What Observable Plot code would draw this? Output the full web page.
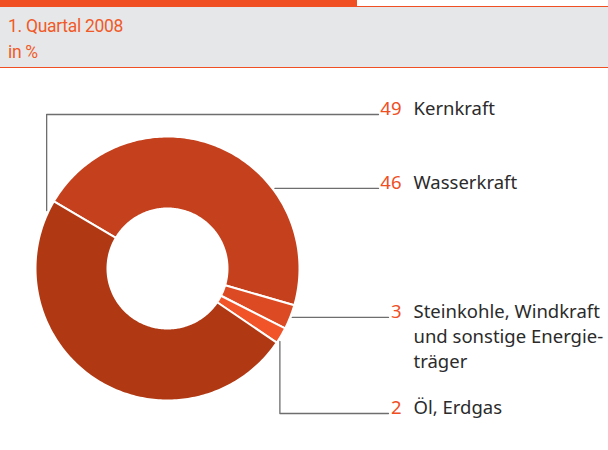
<!DOCTYPE html>
<html><head><meta charset="utf-8">
<script src="https://cdn.jsdelivr.net/npm/d3@7"></script>
<script src="https://cdn.jsdelivr.net/npm/@observablehq/plot@0.6"></script>
<style>
body{margin:0;background:#fff;font-family:"Noto Sans",sans-serif;}
#hdr{position:relative;width:608px;height:67px;}
#bar{position:absolute;left:0;top:0;width:357px;height:7px;background:#f04e23;}
#band{position:absolute;left:0;top:6px;width:608px;height:60px;background:#e6e7e8;border-top:1px solid #f04e23;border-bottom:1px solid #f04e23;}
#band div{position:absolute;left:8px;color:#f05a28;font-family:Roboto,sans-serif;font-size:17.5px;line-height:26px;letter-spacing:-0.3px;}
#chart svg{display:block;}
</style></head>
<body>
<div id="hdr"><div id="bar"></div><div id="band"><div style="top:6px">1. Quartal 2008<br>in %</div></div></div>
<div id="chart"></div>
<script>
// data
const names = ["Wasserkraft", "Steinkohle, Windkraft\nund sonstige Energie-\nträger", "Öl, Erdgas", "Kernkraft"];
const values = [46, 3, 2, 49];
const colors = ["#c5401d", "#db4a22", "#f05428", "#b03813"];
// layout (label placement)
const anchorAngles = [53.3, 111.4, 123, 295.6];
const labelY = [121, 250, 346, 47];
const lineEndX = [378, 388, 388, 378];

const W = 608, H = 383, cx = 167, cy = 201, R = 132, R0 = 60;
const rad = Math.PI / 180;
const pie = d3.pie().sort(null).value(d => d).startAngle(-59.4 * rad).endAngle((360 - 59.4) * rad);
const arcs = pie(values);

const polyPts = [];
arcs.forEach((a, i) => {
  const n = Math.max(4, Math.ceil((a.endAngle - a.startAngle) / (1 * rad)));
  const pts = [];
  for (let k = 0; k <= n; k++) { const t = a.startAngle + (a.endAngle - a.startAngle) * k / n; pts.push([cx + R * Math.sin(t), cy - R * Math.cos(t)]); }
  for (let k = n; k >= 0; k--) { const t = a.startAngle + (a.endAngle - a.startAngle) * k / n; pts.push([cx + R0 * Math.sin(t), cy - R0 * Math.cos(t)]); }
  pts.push(pts[0]);
  pts.forEach(p => polyPts.push({name: names[i], x: p[0], y: p[1]}));
});

const leaderPts = [];
names.forEach((nm, i) => {
  const a = anchorAngles[i] * rad;
  const sx = cx + (R + 2) * Math.sin(a), sy = cy - (R + 2) * Math.cos(a);
  leaderPts.push({name: nm, x: sx, y: sy});
  if (Math.abs(sy - labelY[i]) > 1.5) leaderPts.push({name: nm, x: sx, y: labelY[i]});
  leaderPts.push({name: nm, x: lineEndX[i], y: Math.abs(sy - labelY[i]) > 1.5 ? labelY[i] : sy});
});

const labels = names.map((nm, i) => ({name: nm, value: String(values[i]), y: labelY[i]}));
const fs = 18.5, lh = 25;

const chart = Plot.plot({
  width: W, height: H, margin: 0,
  x: {domain: [0, W], range: [0, W], axis: null},
  y: {domain: [0, H], range: [0, H], axis: null},
  color: {domain: names, range: colors},
  style: {fontFamily: "Noto Sans, sans-serif", background: "white"},
  marks: [
    Plot.line(polyPts, {x: "x", y: "y", z: "name", fill: "name", stroke: "white", strokeWidth: 2, curve: "linear"}),
    Plot.line(leaderPts, {x: "x", y: "y", z: "name", stroke: "#6e6e6e", strokeWidth: 1.3, curve: "linear"}),
    Plot.text(labels, {x: 401, y: "y", text: "value", textAnchor: "end", lineAnchor: "top", dy: -0.71 * fs, fontSize: fs, fill: "#f04e23"}),
    Plot.text(labels, {x: 413, y: "y", text: "name", textAnchor: "start", lineAnchor: "top", dy: -0.71 * lh, fontSize: fs, lineHeight: lh / fs, fill: "#2b2b2b"})
  ]
});
document.getElementById("chart").appendChild(chart);
</script>
</body></html>
